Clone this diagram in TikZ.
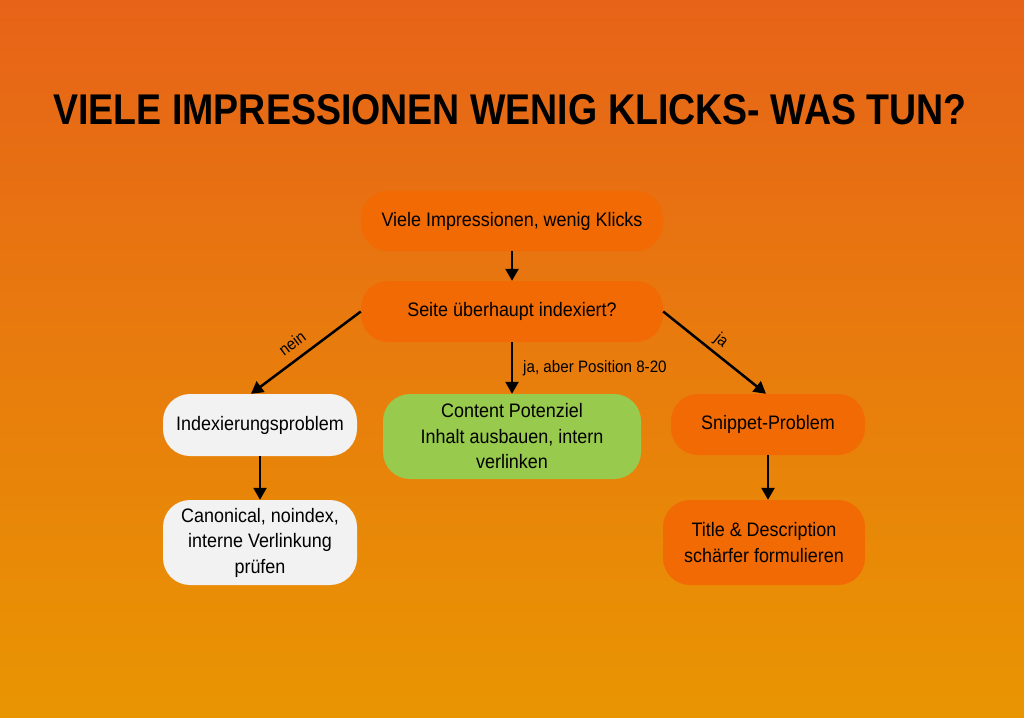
\documentclass[tikz,border=0pt]{standalone}
\usepackage{fontspec}
\setmainfont{Liberation Sans}[FakeStretch=0.92]
\newfontfamily\titlefont{Liberation Sans}[FakeStretch=0.85]
\usetikzlibrary{arrows.meta}
\definecolor{bgtop}{HTML}{E76318}
\definecolor{bgbot}{HTML}{E99502}
\definecolor{boxor}{HTML}{F26A04}
\definecolor{boxgr}{HTML}{97CA4D}
\definecolor{boxwh}{HTML}{F2F2F2}
\tikzset{
  box/.style={rounded corners=27pt, inner sep=0pt, align=center, font=\fontsize{19.5}{25.5}\selectfont, text=black},
  orbox/.style={box, fill=boxor},
  grbox/.style={box, fill=boxgr},
  whbox/.style={box, fill=boxwh},
  conn/.style={line width=2.5pt, -{Triangle[length=12pt,width=13pt]}},
  lbl/.style={inner sep=0pt, font=\fontsize{16.5}{19}\selectfont}
}
\begin{document}
\begin{tikzpicture}[x=1pt,y=-1pt]
\useasboundingbox (0,0) rectangle (1024,717);
\shade[top color=bgtop, bottom color=bgbot] (0,0) rectangle (1024,717);
\node[inner sep=0pt, anchor=south] (title) at (510,125) {\resizebox{913pt}{30pt}{\titlefont\bfseries VIELE IMPRESSIONEN WENIG KLICKS- WAS TUN?}};
\node[orbox, minimum width=302pt, minimum height=60pt] (n1) at (512,221) {Viele Impressionen, wenig Klicks};
\node[orbox, minimum width=302pt, minimum height=61pt] (n2) at (512,311.5) {Seite überhaupt indexiert?};
\node[whbox, minimum width=194pt, minimum height=62pt] (n3) at (260,425) {Indexierungsproblem};
\node[grbox, minimum width=258pt, minimum height=85pt] (n4) at (512,436.5) {Content Potenziel\\Inhalt ausbauen, intern\\verlinken};
\node[orbox, minimum width=194pt, minimum height=61pt] (n5) at (768,424.5) {Snippet-Problem};
\node[whbox, minimum width=194pt, minimum height=85pt] (n6) at (260,542.5) {Canonical, noindex,\\interne Verlinkung\\prüfen};
\node[orbox, minimum width=202pt, minimum height=85pt] (n7) at (764,542.5) {Title \& Description\\schärfer formulieren};
\draw[conn] (n1.south) -- (n2.north);
\draw[conn] (n2.west) -- ([xshift=-9pt]n3.north);
\draw[conn] (n2.south) -- (n4.north);
\draw[conn] (n2.east) -- ([xshift=-2pt]n5.north);
\draw[conn] (n3.south) -- (n6.south |- n6.north);
\draw[conn] (n5.south) -- (n5.south |- n7.north);
\node[lbl, rotate=36.7] (lnein) at (292,343) {nein};
\node[lbl, rotate=-38.8] (lja) at (721,341) {ja};
\node[lbl, anchor=west] (lja2) at (523,368) {ja, aber Position 8-20};
\end{tikzpicture}
\end{document}
